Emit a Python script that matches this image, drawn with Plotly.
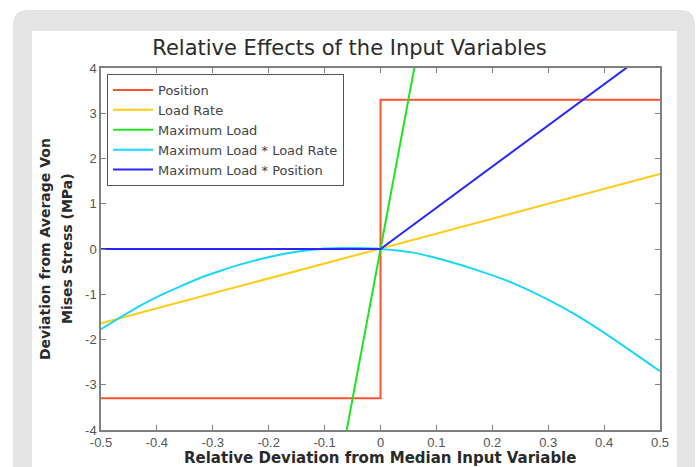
import plotly.graph_objects as go

# ---- data ----
series_names = ["Position", "Load Rate", "Maximum Load",
                "Maximum Load * Load Rate", "Maximum Load * Position"]

position_x = [-0.5, 0.0, 0.0, 0.5]
position_y = [-3.3, -3.3, 3.3, 3.3]

load_rate_x = [-0.5, 0.5]
load_rate_y = [-1.64, 1.66]

max_load_x = [-0.065, 0.065]
max_load_y = [-4.3, 4.3]

ml_lr_x = [-0.5, -0.464, -0.428, -0.393, -0.357, -0.321, -0.286, -0.25, -0.214,
           -0.178, -0.144, -0.108, -0.072, -0.036, 0.0, 0.059, 0.118, 0.178,
           0.238, 0.298, 0.357, 0.417, 0.5]
ml_lr_y = [-1.77, -1.50, -1.24, -1.02, -0.82, -0.63, -0.48, -0.34, -0.22,
           -0.12, -0.05, 0.0, 0.02, 0.02, 0.0, -0.08, -0.26, -0.49,
           -0.76, -1.11, -1.51, -1.99, -2.70]

ml_pos_x = [-0.5, 0.0, 0.5]
ml_pos_y = [0.0, 0.0, 4.55]

x_ticks = [-0.5, -0.4, -0.3, -0.2, -0.1, 0, 0.1, 0.2, 0.3, 0.4, 0.5]
x_ticklabels = ["-0.5", "-0.4", "-0.3", "-0.2", "-0.1", "0", "0.1", "0.2", "0.3", "0.4", "0.5"]
y_ticks = [-4, -3, -2, -1, 0, 1, 2, 3, 4]
y_ticklabels = ["-4", "-3", "-2", "-1", "0", "1", "2", "3", "4"]

title_text = "Relative Effects of the Input Variables"
x_title = "Relative Deviation from Median Input Variable"
y_title_lines = ["Deviation from Average Von", "Mises Stress (MPa)"]

colors = ["#ff5030", "#ffcc14", "#1ee61e", "#19d7fa", "#2828ff"]

fig = go.Figure()
for name, xs, ys, c in zip(series_names,
                           [position_x, load_rate_x, max_load_x, ml_lr_x, ml_pos_x],
                           [position_y, load_rate_y, max_load_y, ml_lr_y, ml_pos_y],
                           colors):
    shape = "spline" if name == "Maximum Load * Load Rate" else "linear"
    fig.add_trace(go.Scatter(x=xs, y=ys, mode="lines", name=name,
                             line=dict(color=c, width=2, shape=shape, smoothing=0.6)))

W, H = 699, 467
L, R, T, B = 101, 660, 68, 430
pw, ph = R - L, B - T

def px(v):
    return (v - L) / pw

def py(v):
    return (B - v) / ph

def rounded(x0, y0, x1, y1, r):
    return (f"M {px(x0)} {py(y1)} L {px(x0)} {py(y0 + r)} "
            f"Q {px(x0)} {py(y0)} {px(x0 + r)} {py(y0)} "
            f"L {px(x1 - r)} {py(y0)} Q {px(x1)} {py(y0)} {px(x1)} {py(y0 + r)} "
            f"L {px(x1)} {py(y1)} Z")

shapes = [
    dict(type="path", xref="paper", yref="paper", path=rounded(13, 10, 695, 480, 15),
         fillcolor="#e4e4e4", line=dict(width=0), layer="below"),
    dict(type="rect", xref="paper", yref="paper", x0=px(32), x1=px(677), y0=py(480), y1=py(31),
         fillcolor="#ffffff", line=dict(width=0), layer="below"),
]

annotations = [
    dict(text=f"<b>{y_title_lines[0]}</b>", xref="paper", yref="paper", x=px(45), y=py(249),
         xanchor="center", yanchor="middle", textangle=-90, showarrow=False,
         font=dict(family="DejaVu Sans", size=14, color="#2a2a2a")),
    dict(text=f"<b>{y_title_lines[1]}</b>", xref="paper", yref="paper", x=px(67), y=py(249),
         xanchor="center", yanchor="middle", textangle=-90, showarrow=False,
         font=dict(family="DejaVu Sans", size=14, color="#2a2a2a")),
    dict(text=f"<b>{x_title}</b>", xref="paper", yref="paper", x=px(380), y=py(458),
         xanchor="center", yanchor="middle", showarrow=False,
         font=dict(family="DejaVu Sans", size=15, color="#2a2a2a")),
]

axis_common = dict(showgrid=False, zeroline=False, showline=True, mirror="ticks",
                   linecolor="#808080", linewidth=1.5, ticks="inside", ticklen=5,
                   tickcolor="#808080",
                   tickfont=dict(family="Liberation Sans, Arial", size=13, color="#555555"))

fig.update_layout(
    width=W, height=H,
    margin=dict(l=L, r=W - R, t=T, b=H - B),
    paper_bgcolor="#ffffff", plot_bgcolor="rgba(0,0,0,0)",
    shapes=shapes, annotations=annotations,
    title=dict(text=title_text, x=px(380.5), xanchor="center",
               y=1 - 48 / H, yanchor="middle",
               font=dict(family="DejaVu Sans", size=21, color="#2a2a2a")),
    xaxis=dict(range=[-0.5, 0.5], tickvals=x_ticks, ticktext=x_ticklabels, **axis_common),
    yaxis=dict(range=[-4, 4], tickvals=y_ticks, ticktext=y_ticklabels, **axis_common),
    legend=dict(x=px(107), y=py(74), xanchor="left", yanchor="top",
                bgcolor="#ffffff", bordercolor="#555555", borderwidth=1,
                font=dict(family="DejaVu Sans", size=13, color="#444444"),
                tracegroupgap=0, itemwidth=40),
    showlegend=True,
)

fig.write_html("out.html", config={"displayModeBar": False},
               post_script="document.body.style.margin='0';")
